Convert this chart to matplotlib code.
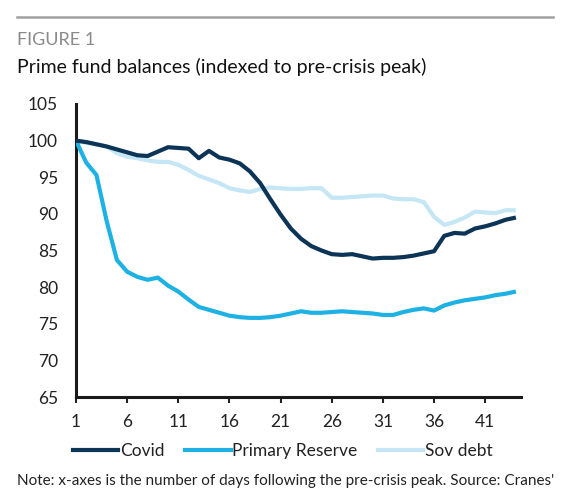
import matplotlib
matplotlib.use("Agg")
import matplotlib.pyplot as plt
from matplotlib.lines import Line2D

plt.rcParams['font.family'] = ['Lato', 'DejaVu Sans']

days = list(range(1, 45))
covid = [100.0, 99.8, 99.5, 99.2, 98.8, 98.4, 98.0, 97.9, 98.5, 99.1,
         99.0, 98.9, 97.6, 98.6, 97.7, 97.4, 96.9, 95.8, 94.2, 92.0,
         89.9, 88.0, 86.6, 85.6, 85.0, 84.5, 84.4, 84.5, 84.2, 83.9,
         84.0, 84.0, 84.1, 84.3, 84.6, 84.9, 87.0, 87.4, 87.3, 88.0,
         88.3, 88.7, 89.2, 89.5]
primary_reserve = [100.0, 97.0, 95.3, 89.0, 83.7, 82.1, 81.4, 81.0, 81.3, 80.2,
                   79.4, 78.3, 77.3, 76.9, 76.5, 76.1, 75.9, 75.8, 75.8, 75.9,
                   76.1, 76.4, 76.7, 76.5, 76.5, 76.6, 76.7, 76.6, 76.5, 76.4,
                   76.2, 76.2, 76.6, 76.9, 77.1, 76.8, 77.5, 77.9, 78.2, 78.4,
                   78.6, 78.9, 79.1, 79.4]
sov_debt = [100.0, 99.7, 99.5, 99.2, 98.3, 97.8, 97.6, 97.3, 97.1, 97.1,
            96.7, 96.0, 95.2, 94.7, 94.2, 93.5, 93.2, 93.0, 93.4, 93.6,
            93.5, 93.4, 93.4, 93.5, 93.5, 92.2, 92.2, 92.3, 92.4, 92.5,
            92.5, 92.1, 92.0, 92.0, 91.6, 89.6, 88.5, 88.9, 89.5, 90.3,
            90.2, 90.1, 90.5, 90.5]
series_names = ["Covid", "Primary Reserve", "Sov debt"]
x_ticks = [1, 6, 11, 16, 21, 26, 31, 36, 41]
y_ticks = [65, 70, 75, 80, 85, 90, 95, 100, 105]

colors = ["#0c3456", "#1eb1e3", "#c4e6f5"]

W, H = 570, 499
fig = plt.figure(figsize=(W / 100, H / 100), dpi=100)
ax = fig.add_axes([76 / W, 1 - 397 / H, (521 - 76) / W, (397 - 104) / H])

ax.plot(days, sov_debt, color=colors[2], lw=3.0, solid_capstyle='butt', zorder=2)
ax.plot(days, primary_reserve, color=colors[1], lw=3.0, solid_capstyle='butt', zorder=3)
ax.plot(days, covid, color=colors[0], lw=3.0, solid_capstyle='butt', zorder=4)

ax.set_xlim(1, 44.5)
ax.set_ylim(65, 105)
ax.set_xticks(x_ticks)
ax.set_yticks(y_ticks)
ax.tick_params(axis='x', length=4, width=1.5, color='#222222', labelsize=12.5,
               labelcolor='#222222', pad=8, direction='out')
ax.tick_params(axis='y', length=0, labelsize=12.5, labelcolor='#222222', pad=13)
for s in ['top', 'right']:
    ax.spines[s].set_visible(False)
for s in ['left', 'bottom']:
    ax.spines[s].set_color('#1a1a1a')
    ax.spines[s].set_linewidth(2.2)

# header
fig.add_artist(Line2D([17 / W, 553 / W], [1 - 17 / H, 1 - 17 / H],
                      color='#a0a0a0', lw=1.8))
fig.text(17 / W, 1 - 40 / H, "FIGURE 1", fontsize=13, color='#8a8a8a',
         va='center', ha='left')
fig.text(17 / W, 1 - 67 / H, "Prime fund balances (indexed to pre-crisis peak)",
         fontsize=14, color='#111111', va='center', ha='left')

# legend
handles = [Line2D([], [], color=c, lw=3.0) for c in colors]
leg = fig.legend(handles, series_names, loc='center', ncol=3,
                 bbox_to_anchor=(283 / W, 1 - 451 / H), frameon=False,
                 fontsize=12.5, handlelength=2.6, handletextpad=0.1,
                 columnspacing=1.2, borderpad=0, borderaxespad=0)
for t in leg.get_texts():
    t.set_color('#222222')

fig.text(17 / W, 1 - 481 / H,
         "Note: x-axes is the number of days following the pre-crisis peak. Source: Cranes'",
         fontsize=11, color='#222222', va='center', ha='left')

fig.savefig("out.png", dpi=100)
